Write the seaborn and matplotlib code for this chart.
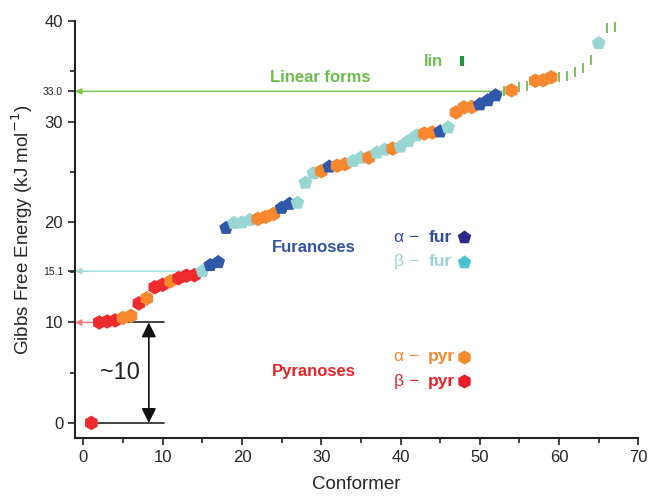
import numpy as np
import pandas as pd
import matplotlib.pyplot as plt
import seaborn as sns

# значения
conformer = list(range(1, 53)) + [54, 57, 58, 59, 65]
energy = [0.0, 10.0, 10.1, 10.2, 10.45, 10.65, 11.9, 12.4, 13.5, 13.75,
          14.1, 14.4, 14.65, 14.7, 15.1, 15.7, 16.0, 19.4, 19.9, 19.95,
          20.2, 20.3, 20.5, 20.8, 21.4, 21.8, 21.9, 23.9, 24.85, 25.05,
          25.5, 25.6, 25.75, 26.05, 26.4, 26.4, 26.9, 27.2, 27.3, 27.5,
          28.05, 28.6, 28.8, 28.9, 29.0, 29.4, 30.9, 31.4, 31.45, 31.7,
          32.1, 32.6, 33.1, 34.05, 34.1, 34.4, 37.8]
form = (['b-pyr'] * 4 + ['a-pyr'] * 2 + ['b-pyr', 'a-pyr', 'b-pyr', 'b-pyr',
        'a-pyr', 'b-pyr', 'b-pyr', 'b-pyr', 'b-fur', 'a-fur', 'a-fur', 'a-fur',
        'b-fur', 'b-fur', 'b-fur', 'a-pyr', 'a-pyr', 'a-pyr', 'a-fur', 'a-fur',
        'b-fur', 'b-fur', 'b-fur', 'a-pyr', 'a-fur', 'a-pyr', 'a-pyr', 'b-fur',
        'b-fur', 'a-pyr', 'b-fur', 'b-fur', 'a-pyr', 'b-fur', 'b-fur', 'b-fur',
        'a-pyr', 'a-pyr', 'a-fur', 'b-fur', 'a-pyr', 'a-pyr', 'a-pyr', 'a-fur',
        'a-fur', 'a-fur', 'a-pyr', 'a-pyr', 'a-pyr', 'a-pyr', 'b-fur'])

lin_conformer = [53, 55, 56, 60, 61, 62, 63, 64, 66, 67]
lin_energy = [33.0, 33.4, 33.5, 34.4, 34.5, 34.9, 35.3, 36.1, 39.35, 39.4]

# уровни отсечки
level_lin = 33.0
level_fur = 15.1
level_pyr = 10.0

df = pd.DataFrame({'Conformer': conformer, 'G': energy, 'form': form})
lin_df = pd.DataFrame({'Conformer': lin_conformer, 'G': lin_energy})

data_colors = {'a-fur': '#2f58a8', 'b-fur': '#98d6d4',
               'a-pyr': '#f7882f', 'b-pyr': '#ee2b2e'}
legend_colors = {'a-fur': '#2b2a8c', 'b-fur': '#4ec3cf',
                 'a-pyr': '#f58a2c', 'b-pyr': '#ec1c24'}
text_colors = {'a-fur': '#2e4fa0', 'b-fur': '#9ad6d6',
               'a-pyr': '#f58a2c', 'b-pyr': '#e8262a'}
markers = {'a-fur': 'p', 'b-fur': 'p', 'a-pyr': 'h', 'b-pyr': 'h'}
green = '#6dbf4b'

sns.set_style('ticks')
plt.rcParams['font.family'] = ['Liberation Sans', 'DejaVu Sans']

fig = plt.figure(figsize=(6.49, 4.97), dpi=100)
ax = fig.add_axes([0.1156, 0.1187, 0.868, 0.839])

# горизонтальные уровни со стрелками к оси
xmin = -1.06
for lvl, xend, col in [(level_lin, 53, '#7dc855'), (level_fur, 14.4, '#a4dcdc'),
                       (level_pyr, 1.8, '#f08080')]:
    ax.annotate('', xy=(xmin, lvl), xytext=(xend, lvl),
                arrowprops=dict(arrowstyle='-|>', color=col, lw=1.1,
                                mutation_scale=9, shrinkA=0, shrinkB=0),
                annotation_clip=False)

sns.scatterplot(data=lin_df, x='Conformer', y='G', marker='|', s=60,
                color=green, linewidth=1.3, ax=ax, legend=False, zorder=3)
sns.scatterplot(data=df, x='Conformer', y='G', hue='form', style='form',
                palette=data_colors, markers=markers, s=110, linewidth=0,
                ax=ax, legend=False, zorder=4)

# отметка ~10
ax.plot([5.6, 10.2], [10, 10], color='#222222', lw=1.2)
ax.plot([1.85, 10.2], [0, 0], color='#222222', lw=1.2)
ax.annotate('', xy=(8.25, 0), xytext=(8.25, 10),
            arrowprops=dict(arrowstyle='<|-|>', color='#111111', lw=1.2,
                            mutation_scale=22, shrinkA=0, shrinkB=0))
ax.text(4.6, 4.95, '~10', fontsize=17, ha='center', va='center', color='#222222')

ax.text(29.9, 34.4, 'Linear forms', color=green, fontsize=12,
        fontweight='bold', ha='center', va='center')
ax.text(29.0, 17.5, 'Furanoses', color='#2f55a4', fontsize=12,
        fontweight='bold', ha='center', va='center')
ax.text(29.0, 5.07, 'Pyranoses', color='#e8262a', fontsize=12,
        fontweight='bold', ha='center', va='center')

# подписи-легенда
ax.text(44.2, 36.0, 'lin', color=green, fontsize=12, fontweight='bold',
        ha='center', va='center')
ax.scatter([47.7], [36.0], marker='|', s=45, color='#1a9a3c', linewidths=3)

legend_rows = [('a-fur', 'α', 'fur', 18.5), ('b-fur', 'β', 'fur', 16.05),
               ('a-pyr', 'α', 'pyr', 6.6), ('b-pyr', 'β', 'pyr', 4.15)]
for key, greek, name, yy in legend_rows:
    ax.text(39.2, yy, greek + ' \u2212', color=text_colors[key], fontsize=12.5,
            ha='left', va='center')
    ax.text(43.5, yy, name, color=text_colors[key], fontsize=12.5,
            fontweight='bold', ha='left', va='center')
    ax.scatter([48.05], [yy], marker=markers[key], s=105,
               color=legend_colors[key], linewidths=0)

ax.set_xlim(xmin, 70)
ax.set_ylim(-1.5, 40)
ax.set_xticks(np.arange(0, 71, 10))
ax.set_xticks(np.arange(5, 70, 10), minor=True)
yt = [0, 10, 15.1, 20, 30, 33.0, 40]
ax.set_yticks(yt)
ax.set_yticklabels(['0', '10', '15.1', '20', '30', '33.0', '40'])
ax.set_yticks([5, 15, 25, 35], minor=True)
for lab in ax.get_yticklabels():
    if lab.get_text() in ('15.1', '33.0'):
        lab.set_fontsize(7.5)
    else:
        lab.set_fontsize(12)
for lab in ax.get_xticklabels():
    lab.set_fontsize(12)
ax.tick_params(which='major', length=5, width=1.2, color='#222222')
ax.tick_params(which='minor', length=3.5, width=1.2, color='#222222')

sns.despine(ax=ax)
for sp in ['left', 'bottom']:
    ax.spines[sp].set_linewidth(1.5)
    ax.spines[sp].set_color('#222222')

ax.set_xlabel('Conformer', fontsize=13.5, labelpad=8)
ax.set_ylabel('Gibbs Free Energy (kJ mol$^{-1}$)', fontsize=13.5, labelpad=6)

fig.savefig('out.png', dpi=100)
